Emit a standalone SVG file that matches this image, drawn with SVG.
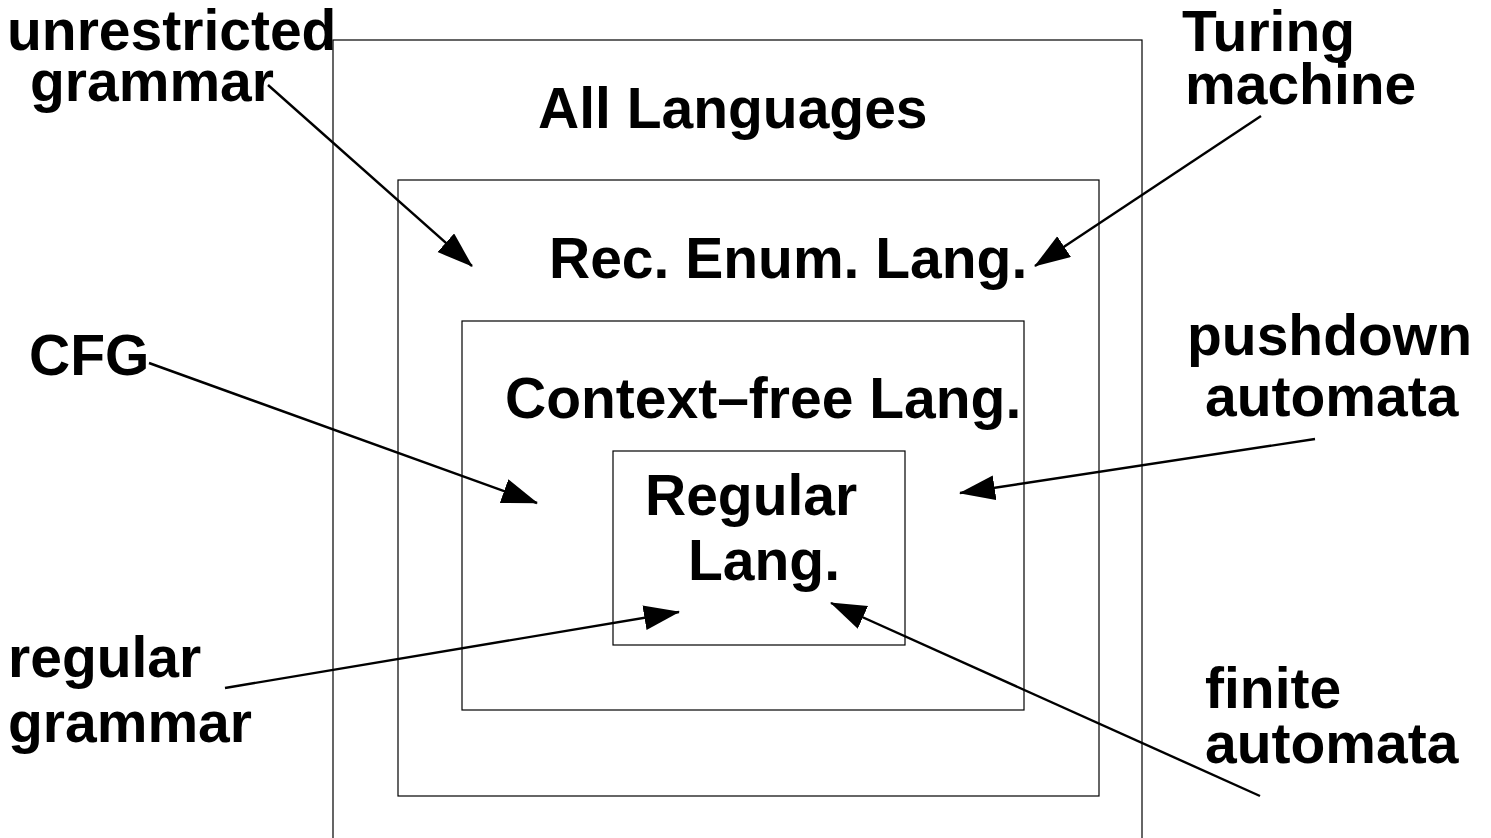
<svg xmlns="http://www.w3.org/2000/svg" width="1491" height="838" viewBox="0 0 1491 838">
<style>
.box{fill:none;stroke:#000;stroke-width:1.2}
.t{font-family:"Liberation Sans",Arial,sans-serif;font-weight:bold;font-size:57px;fill:#000}
.c{stroke:#000;stroke-width:2.4;fill:none;marker-end:url(#ah)}
</style>
<defs>
<marker id="ah" markerUnits="userSpaceOnUse" markerWidth="40" markerHeight="30" refX="35" refY="12.5" orient="auto" viewBox="0 0 40 30">
<path d="M0,0 L36,12.5 L0,25 Z" fill="#000"/>
</marker>
</defs>
<rect width="1491" height="838" fill="#fff"/>
<g id="all-languages">
<rect class="box" x="333" y="40" width="809" height="820"/>
<text class="t" x="538" y="128">All Languages</text>
</g>
<g id="rec-enum">
<rect class="box" x="398" y="180" width="701" height="616"/>
<text class="t" x="549" y="278">Rec. Enum. Lang.</text>
</g>
<g id="context-free">
<rect class="box" x="462" y="321" width="562" height="389"/>
<text class="t" x="505" y="418">Context–free Lang.</text>
</g>
<g id="regular">
<rect class="box" x="613" y="451" width="292" height="194"/>
<text class="t" x="645" y="515">Regular</text>
<text class="t" x="688" y="580">Lang.</text>
</g>
<g id="unrestricted-grammar">
<text class="t" x="7" y="50">unrestricted</text>
<text class="t" x="30" y="101">grammar</text>
</g>
<g id="turing-machine">
<text class="t" x="1182" y="51">Turing</text>
<text class="t" x="1185" y="104">machine</text>
</g>
<g id="cfg">
<text class="t" x="29" y="375">CFG</text>
</g>
<g id="pushdown-automata">
<text class="t" x="1187" y="355">pushdown</text>
<text class="t" x="1205" y="416">automata</text>
</g>
<g id="regular-grammar">
<text class="t" x="8" y="677">regular</text>
<text class="t" x="8" y="742">grammar</text>
</g>
<g id="finite-automata">
<text class="t" x="1205" y="708">finite</text>
<text class="t" x="1205" y="763">automata</text>
</g>
<g id="connectors">
<line class="c" x1="268" y1="85" x2="472" y2="266"/>
<line class="c" x1="1261" y1="116" x2="1035" y2="266"/>
<line class="c" x1="149" y1="363" x2="537" y2="503"/>
<line class="c" x1="1315" y1="439" x2="960" y2="493"/>
<line class="c" x1="225" y1="688" x2="679" y2="612"/>
<line class="c" x1="1260" y1="796" x2="831" y2="603"/>
</g>
</svg>
